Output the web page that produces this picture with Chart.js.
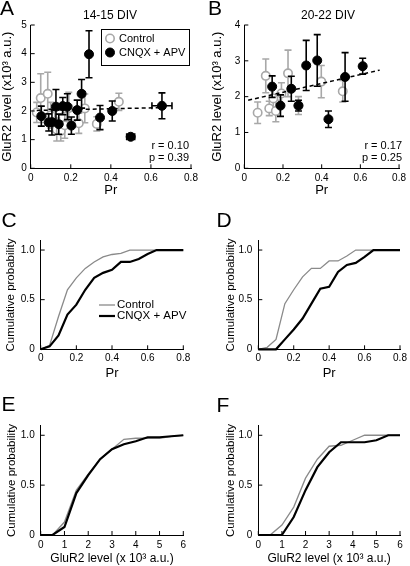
<!DOCTYPE html>
<html>
<head>
<meta charset="utf-8">
<script src="https://cdn.jsdelivr.net/npm/chart.js@4.4.1/dist/chart.umd.min.js"></script>
<style>
    body { margin: 0; background: #fff; width: 410px; height: 566px; position: relative; overflow: hidden; }
    .panel { position: absolute; }
</style>
</head>
<body>
<div class="panel" style="left:0;top:0;width:205px;height:200px"><canvas id="chartA"></canvas></div>
<div class="panel" style="left:205px;top:0;width:205px;height:200px"><canvas id="chartB"></canvas></div>
<div class="panel" style="left:0;top:190px;width:205px;height:195px"><canvas id="chartC"></canvas></div>
<div class="panel" style="left:205px;top:190px;width:205px;height:195px"><canvas id="chartD"></canvas></div>
<div class="panel" style="left:0;top:375px;width:205px;height:191px"><canvas id="chartE"></canvas></div>
<div class="panel" style="left:205px;top:375px;width:205px;height:191px"><canvas id="chartF"></canvas></div>
<script>
// A: 14-15 DIV
const prCtrlA = [0.03, 0.05, 0.085, 0.10, 0.13, 0.15, 0.17, 0.19, 0.24, 0.27, 0.33, 0.44];
const gluCtrlA = [1.95, 2.45, 2.60, 1.85, 1.35, 1.30, 1.50, 2.10, 1.57, 2.09, 1.55, 2.32];
const errCtrlA = [0.35, 0.85, 0.75, 0.45, 0.40, 0.35, 0.45, 0.55, 0.35, 0.50, 0.25, 0.30];
const prCnqxA = [0.053, 0.09, 0.106, 0.126, 0.14, 0.16, 0.183, 0.203, 0.232, 0.254, 0.291, 0.346, 0.407, 0.499, 0.655];
const gluCnqxA = [1.82, 1.60, 1.61, 2.15, 1.54, 2.17, 2.15, 1.49, 2.03, 2.60, 3.98, 1.77, 2.00, 1.10, 2.18];
const errCnqxA = [0.35, 0.30, 0.45, 0.60, 0.35, 0.30, 0.45, 0.30, 0.35, 0.50, 0.82, 0.42, 0.35, 0.05, 0.45];
const xerrCnqxA = [0, 0, 0, 0, 0, 0, 0, 0, 0, 0, 0, 0, 0, 0.02, 0.05];
const prFitA = [0.03, 0.67];
const gluFitA = [2.02, 2.12];

// B: 20-22 DIV
const prCtrlB = [0.069, 0.111, 0.129, 0.15, 0.163, 0.192, 0.226, 0.28, 0.398, 0.509];
const gluCtrlB = [1.55, 2.58, 1.67, 1.95, 1.60, 2.09, 2.65, 1.75, 2.42, 2.15];
const errCtrlB = [0.30, 0.47, 0.20, 0.35, 0.30, 0.30, 0.65, 0.25, 0.45, 0.30];
const prCnqxB = [0.144, 0.187, 0.243, 0.28, 0.32, 0.377, 0.435, 0.521, 0.612];
const gluCnqxB = [2.28, 1.75, 2.22, 1.75, 2.87, 3.01, 1.37, 2.55, 2.85];
const errCnqxB = [0.30, 0.30, 0.35, 0.15, 0.70, 0.72, 0.23, 0.68, 0.22];
const prFitB = [0.02, 0.70];
const gluFitB = [1.90, 2.74];

// C-D: cumulative Pr
const prBins = [0, 0.05, 0.1, 0.15, 0.2, 0.25, 0.3, 0.35, 0.4, 0.45, 0.5, 0.55, 0.6, 0.65, 0.7, 0.75, 0.8];
const cumCtrlC = [0, 0.04, 0.33, 0.60, 0.72, 0.815, 0.88, 0.93, 0.955, 0.966, 1, 1, 1, 1, 1, 1, 1];
const cumCnqxC = [0, 0.03, 0.14, 0.35, 0.45, 0.60, 0.72, 0.77, 0.80, 0.88, 0.88, 0.91, 0.96, 1, 1, 1, 1];
const cumCtrlD = [0, 0.02, 0.10, 0.46, 0.60, 0.73, 0.815, 0.815, 0.89, 0.89, 0.94, 1, 1, 1, 1, 1, 1];
const cumCnqxD = [0, 0, 0, 0.10, 0.20, 0.31, 0.46, 0.61, 0.63, 0.78, 0.85, 0.87, 0.93, 1, 1, 1, 1];

// E-F: cumulative GluR2
const gluBins = [0, 0.5, 1, 1.5, 2, 2.5, 3, 3.5, 4, 4.5, 5, 5.5, 6];
const cumCtrlE = [0, 0, 0.13, 0.45, 0.61, 0.76, 0.86, 0.96, 0.97, 0.97, 0.97, 0.99, 1];
const cumCnqxE = [0, 0, 0.08, 0.42, 0.60, 0.76, 0.86, 0.91, 0.94, 0.98, 0.98, 0.99, 1];
const cumCtrlF = [0, 0, 0.10, 0.28, 0.57, 0.76, 0.89, 0.90, 0.95, 1, 1, 1, 1];
const cumCnqxF = [0, 0, 0, 0.18, 0.45, 0.68, 0.83, 0.93, 0.93, 0.93, 0.95, 1, 1];

// tick labels
const prTicks = [0, 0.2, 0.4, 0.6, 0.8];
const gluTicksA = [0, 1, 2, 3, 4, 5];
const gluTicksB = [0, 1, 2, 3, 4];
const cumTicks = [0, 0.5, 1];
const gluTicksX = [0, 1, 2, 3, 4, 5, 6];

const FONT = 'Arial, "Liberation Sans", Helvetica, sans-serif';
const GRAY = '#a8a8a8';
const LINEGRAY = '#8a8a8a';
Chart.defaults.font.family = FONT;
Chart.defaults.color = '#000';

const pts = (xs, ys) => xs.map((x, i) => ({ x: x, y: ys[i] }));

// error bars, drawn just before each dataset so they sit under its markers
const errorBars = {
    id: 'errorBars',
    beforeDatasetDraw(chart, args) {
        const ds = chart.data.datasets[args.index];
        if (!ds.err) return;
        const { ctx } = chart;
        const x = chart.scales.x, y = chart.scales.y;
        ctx.save();
        ctx.strokeStyle = ds.errColor;
        ctx.lineWidth = 1.6;
        ctx.beginPath();
        ds.data.forEach((p, i) => {
            const px = x.getPixelForValue(p.x);
            const py = y.getPixelForValue(p.y);
            const lo = y.getPixelForValue(p.y - ds.err[i]);
            const hi = y.getPixelForValue(p.y + ds.err[i]);
            ctx.moveTo(px, lo); ctx.lineTo(px, hi);
            ctx.moveTo(px - 3.5, lo); ctx.lineTo(px + 3.5, lo);
            ctx.moveTo(px - 3.5, hi); ctx.lineTo(px + 3.5, hi);
            if (ds.xerr && ds.xerr[i]) {
                const l = x.getPixelForValue(p.x - ds.xerr[i]);
                const r = x.getPixelForValue(p.x + ds.xerr[i]);
                ctx.moveTo(l, py); ctx.lineTo(r, py);
                ctx.moveTo(l, py - 3.5); ctx.lineTo(l, py + 3.5);
                ctx.moveTo(r, py - 3.5); ctx.lineTo(r, py + 3.5);
            }
        });
        ctx.stroke();
        ctx.restore();
    },
};

// short tick marks pointing into the plot
const innerTicks = {
    id: 'innerTicks',
    afterDraw(chart) {
        const { ctx, chartArea: a } = chart;
        const x = chart.scales.x, y = chart.scales.y;
        ctx.save();
        ctx.strokeStyle = '#000';
        ctx.lineWidth = 1;
        ctx.beginPath();
        x.ticks.forEach((t) => {
            const px = x.getPixelForValue(t.value);
            ctx.moveTo(px, a.bottom); ctx.lineTo(px, a.bottom - 4);
        });
        y.ticks.forEach((t) => {
            const py = y.getPixelForValue(t.value);
            ctx.moveTo(a.left, py); ctx.lineTo(a.left + 4, py);
        });
        ctx.stroke();
        ctx.restore();
    },
};

// panel letter, title, r/p notes and legend
const decor = {
    id: 'decor',
    afterDraw(chart, args, o) {
        const ctx = chart.ctx;
        const ds = chart.data.datasets;
        ctx.save();
        ctx.fillStyle = '#000';
        ctx.font = '21px ' + FONT;
        ctx.textAlign = 'left';
        ctx.textBaseline = 'alphabetic';
        ctx.fillText(o.letter, o.letterAt[0], o.letterAt[1]);
        ctx.textBaseline = 'middle';
        if (o.title) {
            ctx.font = '12px ' + FONT;
            ctx.textAlign = 'center';
            ctx.fillText(o.title, o.titleAt[0], o.titleAt[1]);
        }
        if (o.notes) {
            ctx.font = '11px ' + FONT;
            ctx.textAlign = 'right';
            o.notes.forEach((n) => ctx.fillText(n.text, n.x, n.y));
        }
        if (o.legend) {
            const lg = o.legend;
            if (lg.box) {
                ctx.strokeStyle = '#000';
                ctx.lineWidth = 1;
                ctx.strokeRect(lg.box[0], lg.box[1], lg.box[2], lg.box[3]);
            }
            ctx.font = lg.font + 'px ' + FONT;
            ctx.textAlign = 'left';
            lg.items.forEach((it) => {
                const d = ds[it.index];
                if (lg.kind === 'dot') {
                    ctx.beginPath();
                    ctx.arc(it.x, it.y, d.pointRadius, 0, Math.PI * 2);
                    ctx.fillStyle = d.pointBackgroundColor;
                    ctx.fill();
                    ctx.lineWidth = d.pointBorderWidth;
                    ctx.strokeStyle = d.pointBorderColor;
                    ctx.stroke();
                } else {
                    ctx.beginPath();
                    ctx.moveTo(it.x, it.y);
                    ctx.lineTo(it.x + 16, it.y);
                    ctx.lineWidth = d.borderWidth;
                    ctx.strokeStyle = d.borderColor;
                    ctx.stroke();
                }
                ctx.fillStyle = '#000';
                ctx.fillText(d.label, it.tx, it.y);
            });
        }
        ctx.restore();
    },
};

Chart.register(errorBars, innerTicks, decor);

const axis = (ticks, min, max, size, title, titleSize, titlePad, tickPad, label) => ({
    type: 'linear',
    min: min,
    max: max,
    afterBuildTicks: (s) => { s.ticks = ticks.map((v) => ({ value: v })); },
    afterFit: (s) => { if (s.isHorizontal()) s.height = size; else s.width = size; },
    grid: { display: false, drawTicks: false },
    border: { display: true, color: '#000', width: 1 },
    ticks: { color: '#000', font: { size: 10 }, padding: tickPad, autoSkip: false, maxRotation: 0, callback: label },
    title: { display: true, text: title, color: '#000', font: { size: titleSize }, padding: titlePad },
});

const intLabel = (v) => String(v);
const prLabel = (v) => (v === 0 ? '0' : v.toFixed(1));
const cumLabel = (v) => (v === 0 ? '0' : v.toFixed(1));

const scatterSets = (prC, gC, eC, prX, gX, eX, xeX, prF, gF) => [
    {
        label: 'CNQX + APV',
        data: pts(prX, gX),
        err: eX,
        xerr: xeX,
        errColor: '#000',
        pointRadius: 4.5,
        pointBackgroundColor: '#000',
        pointBorderColor: '#000',
        pointBorderWidth: 1,
        clip: false,
    },
    {
        label: 'fit',
        data: pts(prF, gF),
        showLine: true,
        borderColor: '#000',
        borderWidth: 1.5,
        borderDash: [4, 3],
        pointRadius: 0,
        clip: false,
    },
    {
        label: 'Control',
        data: pts(prC, gC),
        err: eC,
        errColor: GRAY,
        pointRadius: 4.2,
        pointBackgroundColor: '#fff',
        pointBorderColor: GRAY,
        pointBorderWidth: 1.6,
        clip: false,
    },
];

const cumSets = (xs, ctrl, cnqx) => [
    { label: 'CNQX + APV', data: pts(xs, cnqx), showLine: true, borderColor: '#000', borderWidth: 2.2, pointRadius: 0, clip: false },
    { label: 'Control', data: pts(xs, ctrl), showLine: true, borderColor: LINEGRAY, borderWidth: 1.3, pointRadius: 0, clip: false },
];

const baseOptions = (pad, xScale, yScale, decorOpts) => ({
    responsive: true,
    maintainAspectRatio: false,
    animation: false,
    events: [],
    layout: { padding: pad },
    scales: { x: xScale, y: yScale },
    plugins: { legend: { display: false }, tooltip: { enabled: false }, decor: decorOpts },
});

// A
new Chart(document.getElementById('chartA'), {
    type: 'scatter',
    data: { datasets: scatterSets(prCtrlA, gluCtrlA, errCtrlA, prCnqxA, gluCnqxA, errCnqxA, xerrCnqxA, prFitA, gluFitA) },
    options: baseOptions(
        { top: 25, right: 14, left: 0, bottom: 0 },
        axis(prTicks, 0, 0.8, 31.7, 'Pr', 13, { top: 0, bottom: 1.5 }, 4, prLabel),
        axis(gluTicksA, 0, 5, 30.7, 'GluR2 level (x10³ a.u.)', 13, { top: 0, bottom: 0 }, 4, intLabel),
        {
            letter: 'A', letterAt: [0, 15],
            title: '14-15 DIV', titleAt: [110, 15.7],
            notes: [{ text: 'r = 0.10', x: 189, y: 146 }, { text: 'p = 0.39', x: 189, y: 157.5 }],
            legend: {
                kind: 'dot', font: 11, box: [101.5, 29.5, 88, 36],
                items: [{ index: 2, x: 110, y: 38.5, tx: 119 }, { index: 0, x: 110, y: 52.5, tx: 119 }],
            },
        },
    ),
});

// B
new Chart(document.getElementById('chartB'), {
    type: 'scatter',
    data: { datasets: scatterSets(prCtrlB, gluCtrlB, errCtrlB, prCnqxB, gluCnqxB, errCnqxB, null, prFitB, gluFitB) },
    options: baseOptions(
        { top: 25, right: 10, left: 0, bottom: 0 },
        axis(prTicks, 0, 0.8, 31.7, 'Pr', 13, { top: 0, bottom: 1.5 }, 4, prLabel),
        axis(gluTicksB, 0, 4, 39.3, 'GluR2 level (x10³ a.u.)', 13, { top: 5, bottom: 0 }, 4, intLabel),
        {
            letter: 'B', letterAt: [3, 15],
            title: '20-22 DIV', titleAt: [123, 15.7],
            notes: [{ text: 'r = 0.17', x: 197, y: 146 }, { text: 'p = 0.25', x: 197, y: 157.5 }],
        },
    ),
});

// C
new Chart(document.getElementById('chartC'), {
    type: 'scatter',
    data: { datasets: cumSets(prBins, cumCtrlC, cumCnqxC) },
    options: baseOptions(
        { top: 50.7, right: 21.7, left: 0, bottom: 0 },
        axis(prTicks, 0, 0.8, 35.7, 'Pr', 13, { top: 0, bottom: 4.2 }, 3, prLabel),
        axis(cumTicks, 0, 1.094, 40.7, 'Cumulative probability', 11.5, { top: 4, bottom: 0 }, 6, cumLabel),
        {
            letter: 'C', letterAt: [1.5, 36.5],
            legend: {
                kind: 'line', font: 11.5,
                items: [{ index: 1, x: 99, y: 115, tx: 117 }, { index: 0, x: 99, y: 126, tx: 117 }],
            },
        },
    ),
});

// D
new Chart(document.getElementById('chartD'), {
    type: 'scatter',
    data: { datasets: cumSets(prBins, cumCtrlD, cumCnqxD) },
    options: baseOptions(
        { top: 50.7, right: 10, left: 0, bottom: 0 },
        axis(prTicks, 0, 0.8, 35.7, 'Pr', 13, { top: 0, bottom: 4.2 }, 3, prLabel),
        axis(cumTicks, 0, 1.094, 53.3, 'Cumulative probability', 11.5, { top: 19, bottom: 0 }, 6, cumLabel),
        { letter: 'D', letterAt: [11.5, 36.5] },
    ),
});

// E
new Chart(document.getElementById('chartE'), {
    type: 'scatter',
    data: { datasets: cumSets(gluBins, cumCtrlE, cumCnqxE) },
    options: baseOptions(
        { top: 50.9, right: 21.7, left: 0, bottom: 0 },
        axis(gluTicksX, 0, 6, 31, 'GluR2 level (x 10³ a.u.)', 12, { top: 0, bottom: 0.5 }, 4, intLabel),
        axis(cumTicks, 0, 1.094, 40.7, 'Cumulative probability', 11.5, { top: 4.5, bottom: 0 }, 6, cumLabel),
        { letter: 'E', letterAt: [1.5, 36] },
    ),
});

// F
new Chart(document.getElementById('chartF'), {
    type: 'scatter',
    data: { datasets: cumSets(gluBins, cumCtrlF, cumCnqxF) },
    options: baseOptions(
        { top: 50.9, right: 10, left: 0, bottom: 0 },
        axis(gluTicksX, 0, 6, 31, 'GluR2 level (x 10³ a.u.)', 12, { top: 0, bottom: 0.5 }, 4, intLabel),
        axis(cumTicks, 0, 1.094, 53.3, 'Cumulative probability', 11.5, { top: 19, bottom: 0 }, 6, cumLabel),
        { letter: 'F', letterAt: [11.5, 36.5] },
    ),
});
</script>
</body>
</html>
